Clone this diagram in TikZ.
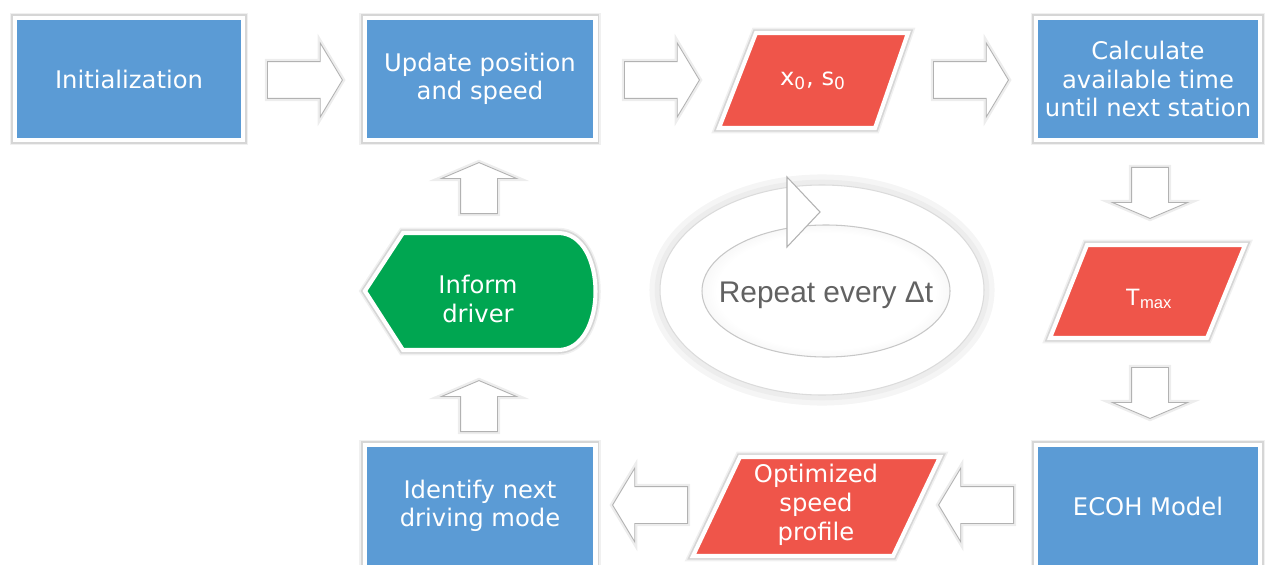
\documentclass[tikz,border=0pt]{standalone}
\usepackage{fontspec}
\setmainfont{DejaVu Sans}
\newfontfamily\arialfont{Liberation Sans}
\usetikzlibrary{shapes.arrows, positioning}

\definecolor{procblue}{RGB}{91,155,213}
\definecolor{datared}{RGB}{239,85,74}
\definecolor{informgreen}{RGB}{0,166,81}
\definecolor{repeatgray}{RGB}{98,98,98}
\pgfdeclareradialshading{ringinner}{\pgfpoint{0bp}{0bp}}{color(0bp)=(white); color(22bp)=(white); color(30bp)=(black!7); color(35bp)=(black!22); color(50bp)=(black!22)}

\tikzset{
  softglow/.style={preaction={draw=black!6, line width=6pt}, preaction={draw=black!16, line width=4.2pt}},
  procbox/.style={rectangle, fill=procblue, draw=white, line width=2.3pt, softglow, minimum height=2.44cm, text=white, align=center, font=\fontsize{13.8pt}{16.2pt}\selectfont},
  datapara/.style={fill=datared, draw=white, line width=2.3pt, softglow},
  datatext/.style={text=white, align=center, font=\fontsize{13.8pt}{16.4pt}\selectfont},
  hflow/.style={single arrow, anchor=tail, fill=white, draw=black!30, line width=0.5pt, inner sep=0.36cm, minimum height=1.5cm, single arrow head extend=0.37cm, single arrow tip angle=118, preaction={draw=black!7, line width=3pt}},
  vflow/.style={hflow, minimum height=1.02cm, single arrow head extend=0.38cm, single arrow tip angle=134}
}

\begin{document}
\begin{tikzpicture}[x=0.02cm, y=-0.02cm]
\useasboundingbox (0,0) rectangle (1266,564);
\clip (0,0) rectangle (1266,564);

\node[procbox, minimum width=4.56cm] (init) at (129,79) {Initialization};
\node[procbox, minimum width=4.62cm] (update) at (480,79) {Update position\\and speed};
\path[datapara] (719,128) -- (756,33) -- (908,33) -- (875,128) -- cycle;
\node[datatext] (state) at (813,81) {x\textsubscript{0}, s\textsubscript{0}};
\node[procbox, minimum width=4.48cm] (calc) at (1148,79) {Calculate\\available time\\until next station};

\path[datapara] (1050,338) -- (1087,245) -- (1245,245) -- (1207,338) -- cycle;
\node[datatext, font=\arialfont\fontsize{13.5pt}{15pt}\selectfont] (tmax) at (1149,299) {T\textsubscript{max}};

\node[procbox, minimum width=4.48cm] (ecoh) at (1148,506) {ECOH Model};
\path[datapara] (693,556) -- (740,457) -- (940,457) -- (893,556) -- cycle;
\node[datatext] (profile) at (816,505) {Optimized\\speed\\profile};
\node[procbox, minimum width=4.62cm] (ident) at (480,506) {Identify next\\driving mode};

\path[fill=informgreen, draw=white, line width=2.3pt, softglow] (365,291) -- (403,233) -- (558,233) .. controls (608,233) and (608,350) .. (558,350) -- (403,350) -- cycle;
\node[datatext] (inform) at (478,299) {Inform\\driver};

\path[fill=white, draw=black!14, line width=0.6pt, preaction={draw=black!4, line width=12pt}, preaction={draw=black!7, line width=6pt}] (822,290) ellipse [x radius=162, y radius=105];
\shade[shading=ringinner] (826,291) ellipse [x radius=124, y radius=66];
\draw[black!22, line width=0.6pt] (826,291) ellipse [x radius=124, y radius=66];
\path[fill=white, draw=black!30, line width=0.6pt] (787,177) -- (820,212) -- (787,247) -- cycle;
\node[text=repeatgray, font=\arialfont\fontsize{17pt}{20pt}\selectfont] (repeat) at (826,295) {Repeat every Δt};

\node[hflow] (i2u) at (267,80) {};
\node[hflow] (u2s) at (624,80) {};
\node[hflow] (s2c) at (933,80) {};
\node[vflow, shape border rotate=270] (c2t) at (1150,167) {};
\node[vflow, shape border rotate=270] (t2e) at (1150,367) {};
\node[hflow, shape border rotate=180] (e2p) at (1014,505) {};
\node[hflow, shape border rotate=180] (p2i) at (688,505) {};
\node[vflow, shape border rotate=90] (i2d) at (479,432) {};
\node[vflow, shape border rotate=90] (d2u) at (479,214) {};
\end{tikzpicture}
\end{document}
